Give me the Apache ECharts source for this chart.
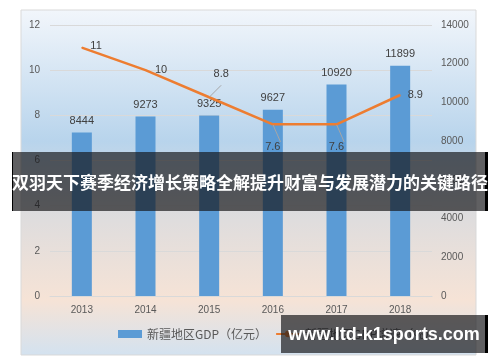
<!DOCTYPE html>
<html><head><meta charset="utf-8">
<script src="https://cdn.jsdelivr.net/npm/echarts@6/dist/echarts.min.js"></script>
<style>html,body{margin:0;padding:0;background:#fff}#c{width:500px;height:362px}</style>
</head><body><div id="c"></div>
<script>
const years = ['2013','2014','2015','2016','2017','2018'];
const gdp = [8444, 9273, 9325, 9627, 10920, 11899];
const growth = [11, 10, 8.8, 7.6, 7.6, 8.9];
const leftTicks = [0, 12, 2];
const rightTicks = [0, 14000, 2000];
const gdpName = '新疆地区GDP（亿元）';
const growthName = '新疆地区GDP增速（%）';
const bannerText = '双羽天下赛季经济增长策略全解提升财富与发展潜力的关键路径';
const watermarkText = 'www.ltd-k1sports.com';

const growthLabelCfg = [
  {position: 'right', offset: [3, -2]},
  {position: 'right', offset: [4, 0]},
  {position: 'top', offset: [12, -12], line: true},
  {position: 'bottom', offset: [0, 12], line: true},
  {position: 'bottom', offset: [0, 12], line: true},
  {position: 'right', offset: [2, 0]}
];

const font = "'Liberation Sans', 'Noto Sans CJK SC', sans-serif";
const chart = echarts.init(document.getElementById('c'), null, {renderer: 'canvas'});
chart.setOption({
  animation: false,
  textStyle: {fontFamily: font},
  graphic: [
    {type: 'rect', z: -10, shape: {x: 21, y: 10, width: 455, height: 345},
     style: {stroke: '#d9d9d9', lineWidth: 1,
       fill: new echarts.graphic.LinearGradient(0, 0, 0, 1, [
         {offset: 0, color: '#f2f6fb'},
         {offset: 0.38, color: '#b8d4ec'},
         {offset: 0.58, color: '#dcdcde'},
         {offset: 0.84, color: '#f6e3d6'},
         {offset: 1, color: '#d3e2f0'}
       ])}},
    {type: 'rect', z: 100, shape: {x: 12, y: 152, width: 476, height: 59},
     style: {fill: 'rgba(20,20,24,0.68)'}},
    {type: 'rect', z: 101, shape: {x: 12, y: 152, width: 1, height: 59}, style: {fill: '#000'}},
    {type: 'rect', z: 101, shape: {x: 485, y: 152, width: 3, height: 59}, style: {fill: '#000'}},
    {type: 'text', z: 102, x: 250, y: 183,
     style: {text: bannerText, fill: '#fff', font: "bold 17px 'Noto Sans CJK SC', sans-serif",
       textAlign: 'center', textVerticalAlign: 'middle'}},
    {type: 'rect', z: 100, shape: {x: 281, y: 315, width: 207, height: 38},
     style: {fill: 'rgba(20,20,24,0.68)'}},
    {type: 'rect', z: 101, shape: {x: 485, y: 315, width: 3, height: 38}, style: {fill: '#000'}},
    {type: 'text', z: 102, x: 384, y: 335,
     style: {text: watermarkText, fill: '#fff', font: "bold 18px 'Liberation Sans', sans-serif",
       textAlign: 'center', textVerticalAlign: 'middle'}}
  ],
  grid: {left: 50, right: 68, top: 25, bottom: 66},
  legend: {
    bottom: 17, left: 113, itemGap: 8, itemWidth: 24, itemHeight: 8,
    textStyle: {color: '#595959', fontSize: 12, fontFamily: "'Noto Sans CJK SC', sans-serif"},
    data: [{name: gdpName, icon: 'rect'}, {name: growthName}]
  },
  xAxis: {
    type: 'category', data: years,
    axisLine: {lineStyle: {color: '#d9d9d9'}}, axisTick: {show: false},
    axisLabel: {color: '#595959', fontSize: 10, margin: 9}
  },
  yAxis: [
    {type: 'value', min: leftTicks[0], max: leftTicks[1], interval: leftTicks[2],
     axisLine: {show: false}, axisTick: {show: false},
     axisLabel: {color: '#595959', fontSize: 10, margin: 10},
     splitLine: {lineStyle: {color: '#d9d9d9'}}},
    {type: 'value', min: rightTicks[0], max: rightTicks[1], interval: rightTicks[2],
     axisLine: {show: false}, axisTick: {show: false},
     axisLabel: {color: '#595959', fontSize: 10, margin: 9, formatter: v => String(v)},
     splitLine: {show: false}}
  ],
  series: [
    {name: gdpName, type: 'bar', yAxisIndex: 1, data: gdp, barWidth: 20,
     itemStyle: {color: '#5b9bd5'},
     label: {show: true, position: 'top', color: '#404040', fontSize: 11, distance: 6}},
    {name: growthName, type: 'line', yAxisIndex: 0,
     showSymbol: true, symbol: 'circle', symbolSize: 1,
     itemStyle: {color: '#ed7d31'},
     lineStyle: {color: '#ed7d31', width: 2.5},
     data: growth.map((v, i) => ({
       value: v,
       label: {show: true, position: growthLabelCfg[i].position, offset: growthLabelCfg[i].offset,
         color: '#404040', fontSize: 11},
       labelLine: {show: !!growthLabelCfg[i].line, lineStyle: {color: '#a6a6a6', width: 1}}
     }))}
  ]
});
</script></body></html>
